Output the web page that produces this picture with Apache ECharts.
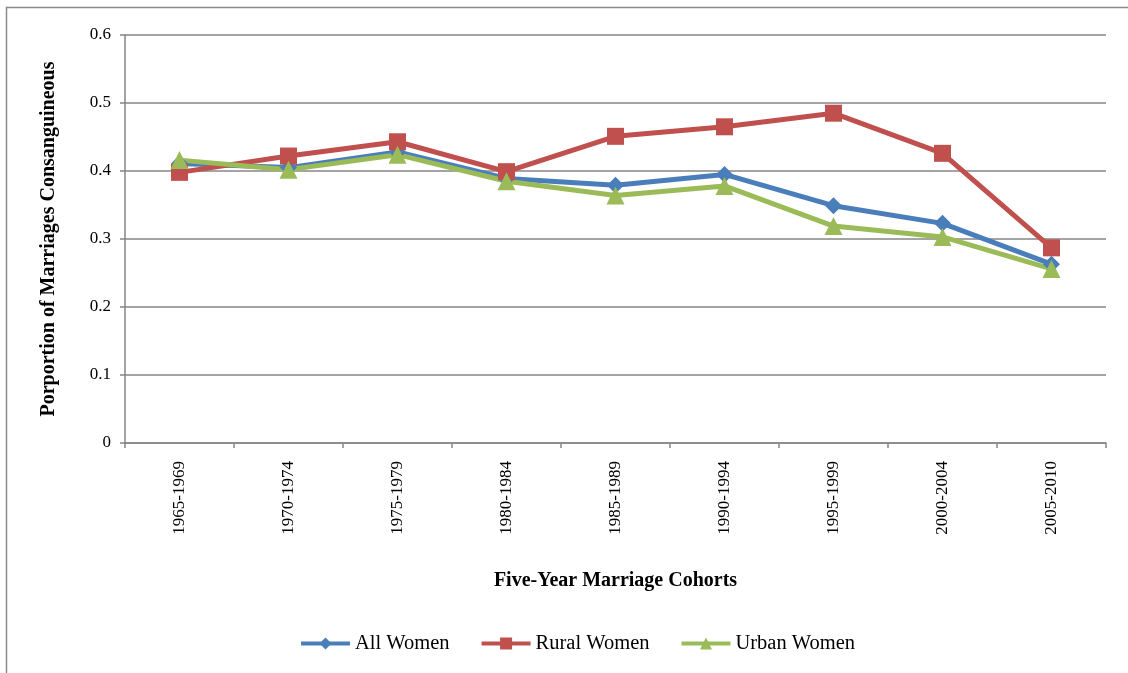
<!DOCTYPE html>
<html>
<head>
<meta charset="utf-8">
<script src="https://cdn.jsdelivr.net/npm/echarts@6/dist/echarts.min.js"></script>
<style>
  html, body { margin: 0; padding: 0; background: #fff; }
  #chart { width: 1128px; height: 673px; }
</style>
</head>
<body>
<div id="chart"></div>
<script>
// 婚姻队列
const cohorts = ['1965-1969', '1970-1974', '1975-1979', '1980-1984', '1985-1989',
  '1990-1994', '1995-1999', '2000-2004', '2005-2010']

const allWomen = [0.411, 0.405, 0.428, 0.389, 0.379, 0.395, 0.349, 0.323, 0.263]
const ruralWomen = [0.398, 0.422, 0.443, 0.399, 0.451, 0.465, 0.485, 0.426, 0.287]
const urbanWomen = [0.416, 0.402, 0.424, 0.385, 0.364, 0.378, 0.319, 0.303, 0.256]

const yTicks = [0, 0.1, 0.2, 0.3, 0.4, 0.5, 0.6]

const font = 'Liberation Serif, Times New Roman, serif'
const axisGrey = '#868686'

const chart = echarts.init(document.getElementById('chart'))

function lineSeries(name, data, color, symbol, size) {
  return {
    name: name,
    type: 'line',
    data: data,
    symbol: symbol,
    symbolSize: size,
    lineStyle: { width: 5, color: color },
    itemStyle: { color: color },
    emphasis: { disabled: true }
  }
}

const option = {
  animation: false,
  backgroundColor: '#fff',
  textStyle: { fontFamily: font },
  graphic: [
    {
      type: 'rect',
      shape: { x: 6.5, y: 7.5, width: 1300, height: 900 },
      style: { fill: 'none', stroke: '#8a8a8a', lineWidth: 1.5 },
      silent: true
    }
  ],
  grid: { left: 125, right: 22, top: 35, bottom: 230 },
  legend: {
    data: ['All Women', 'Rural Women', 'Urban Women'],
    left: 294,
    top: 628,
    itemWidth: 49,
    itemHeight: 15,
    itemGap: 30,
    lineStyle: { width: 4 },
    textStyle: { fontFamily: font, fontSize: 20.5, color: '#000' }
  },
  xAxis: {
    type: 'category',
    data: cohorts,
    boundaryGap: true,
    name: 'Five-Year Marriage Cohorts',
    nameLocation: 'middle',
    nameGap: 128,
    nameTextStyle: { fontFamily: font, fontSize: 20, fontWeight: 'bold', color: '#000' },
    axisLine: { lineStyle: { color: axisGrey, width: 1.5 } },
    axisTick: { show: true, length: 5, lineStyle: { color: axisGrey, width: 1.5 } },
    axisLabel: { rotate: 90, margin: 18, fontFamily: font, fontSize: 17, color: '#000' },
    splitLine: { show: false }
  },
  yAxis: {
    type: 'value',
    min: yTicks[0],
    max: yTicks[yTicks.length - 1],
    interval: 0.1,
    name: 'Porportion of Marriages Consanguineous',
    nameLocation: 'middle',
    nameGap: 66,
    nameTextStyle: { fontFamily: font, fontSize: 20, fontWeight: 'bold', color: '#000' },
    axisLine: { show: true, lineStyle: { color: axisGrey, width: 1.5 } },
    axisTick: { show: true, length: 5, lineStyle: { color: axisGrey, width: 1.5 } },
    axisLabel: {
      margin: 14,
      fontFamily: font,
      fontSize: 17,
      color: '#000',
      formatter: v => (Math.round(v * 10) / 10).toString()
    },
    splitLine: { show: true, lineStyle: { color: axisGrey, width: 1.5 } }
  },
  series: [
    lineSeries('All Women', allWomen, '#4a7ebb', 'diamond', 17),
    lineSeries('Rural Women', ruralWomen, '#c0504d', 'rect', 17),
    lineSeries('Urban Women', urbanWomen, '#9bbb59', 'triangle', 18)
  ]
}

chart.setOption(option)
</script>
</body>
</html>
